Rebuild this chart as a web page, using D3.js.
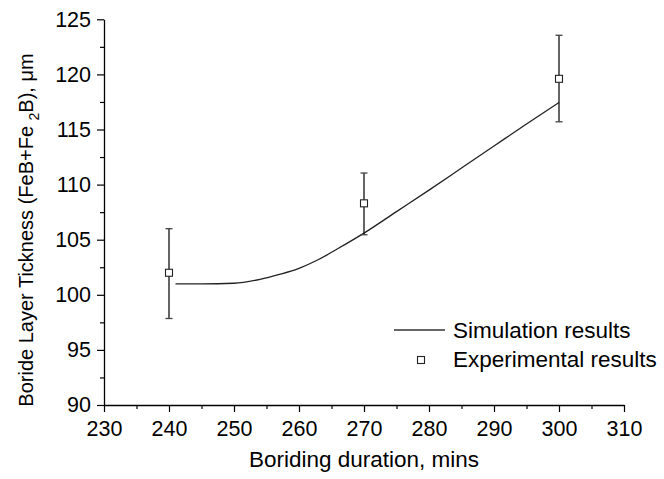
<!DOCTYPE html>
<html>
<head>
<meta charset="utf-8">
<script src="https://cdn.jsdelivr.net/npm/d3@7"></script>
<style>
  html, body { margin: 0; padding: 0; background: #fff; }
  svg { display: block; font-family: "Liberation Sans", Arial, sans-serif; }
</style>
</head>
<body>
<svg id="chart" width="664" height="479"></svg>
<script>
// Measured layer thickness (µm) with error limits
const expDuration = [240, 270, 300];
const expThickness = [102.0, 108.3, 119.6];
const expLow = [97.85, 105.45, 115.7];
const expHigh = [106.0, 111.05, 123.55];

// Simulated thickness curve
const simDuration = [241, 245, 250, 254, 257, 260, 263, 266, 270, 275, 280, 285, 290, 295, 300];
const simThickness = [101.0, 101.0, 101.05, 101.4, 101.85, 102.4, 103.2, 104.2, 105.6, 107.55, 109.5, 111.5, 113.5, 115.5, 117.45];

const xTicks = [230, 240, 250, 260, 270, 280, 290, 300, 310];
const yTicks = [90, 95, 100, 105, 110, 115, 120, 125];

const legendLabels = ["Simulation results", "Experimental results"];

const svg = d3.select("#chart");
const plotLeft = 104, plotRight = 624, plotTop = 19.3, plotBottom = 405;

const x = d3.scaleLinear().domain([230, 310]).range([plotLeft, plotRight]);
const y = d3.scaleLinear().domain([90, 125]).range([plotBottom, plotTop]);

const tickFont = 21.5;
const titleFont = 22.5;

// Minor ticks
const xMinor = d3.range(235, 310, 10);
const yMinor = d3.range(92.5, 125, 5);

const xAxis = svg.append("g").attr("transform", `translate(0,${plotBottom})`);
xAxis.call(d3.axisBottom(x).tickValues(xTicks).tickSize(7).tickSizeOuter(0).tickPadding(9));
xAxis.append("g").call(d3.axisBottom(x).tickValues(xMinor).tickSize(4).tickFormat("").tickSizeOuter(0))
  .select(".domain").remove();

const yAxis = svg.append("g").attr("transform", `translate(${plotLeft},0)`);
yAxis.call(d3.axisLeft(y).tickValues(yTicks).tickSize(7).tickSizeOuter(0).tickPadding(6));
yAxis.append("g").call(d3.axisLeft(y).tickValues(yMinor).tickSize(4).tickFormat("").tickSizeOuter(0))
  .select(".domain").remove();

svg.selectAll(".domain").attr("stroke", "#000").attr("stroke-width", 1.3);
svg.selectAll(".tick line").attr("stroke", "#000").attr("stroke-width", 1.2);
svg.selectAll(".tick text")
  .attr("font-family", "Liberation Sans, Arial, sans-serif")
  .attr("font-size", tickFont)
  .attr("fill", "#000");

// Axis titles
svg.append("text")
  .attr("x", (plotLeft + plotRight) / 2)
  .attr("y", 467)
  .attr("text-anchor", "middle")
  .attr("font-size", titleFont)
  .text("Boriding duration, mins");

const yTitle = svg.append("text")
  .attr("transform", "translate(33,230) rotate(-90)")
  .attr("text-anchor", "middle")
  .attr("font-size", 20);
yTitle.append("tspan").text("Boride Layer Tickness (FeB+Fe ");
yTitle.append("tspan").attr("font-size", 14).attr("dy", 6).text("2");
yTitle.append("tspan").attr("dy", -6).text("B), \u03bcm");

// Simulation curve
const line = d3.line()
  .x((d, i) => x(simDuration[i]))
  .y(d => y(d))
  .curve(d3.curveMonotoneX);

svg.append("path")
  .datum(simThickness)
  .attr("d", line)
  .attr("fill", "none")
  .attr("stroke", "#222")
  .attr("stroke-width", 1.3);

// Error bars and markers
const cap = 3.5;
const pts = svg.append("g");
expDuration.forEach((d, i) => {
  const cx = x(d);
  pts.append("line")
    .attr("x1", cx).attr("x2", cx)
    .attr("y1", y(expLow[i])).attr("y2", y(expHigh[i]))
    .attr("stroke", "#111").attr("stroke-width", 1.3);
  [expLow[i], expHigh[i]].forEach(v => {
    pts.append("line")
      .attr("x1", cx - cap).attr("x2", cx + cap)
      .attr("y1", y(v)).attr("y2", y(v))
      .attr("stroke", "#444").attr("stroke-width", 1.3);
  });
  pts.append("rect")
    .attr("x", cx - 3.5).attr("y", y(expThickness[i]) - 3.5)
    .attr("width", 7).attr("height", 7)
    .attr("fill", "#fff").attr("stroke", "#222").attr("stroke-width", 1.1);
});

// Legend
const lg = svg.append("g");
lg.append("line")
  .attr("x1", 394).attr("x2", 445).attr("y1", 330).attr("y2", 330)
  .attr("stroke", "#333").attr("stroke-width", 1.3);
lg.append("text").attr("x", 453).attr("y", 337.5).attr("font-size", titleFont).text(legendLabels[0]);
lg.append("rect")
  .attr("x", 417.5).attr("y", 356.5).attr("width", 7).attr("height", 7)
  .attr("fill", "#fff").attr("stroke", "#222").attr("stroke-width", 1.1);
lg.append("text").attr("x", 453).attr("y", 367).attr("font-size", titleFont).text(legendLabels[1]);
</script>
</body>
</html>
